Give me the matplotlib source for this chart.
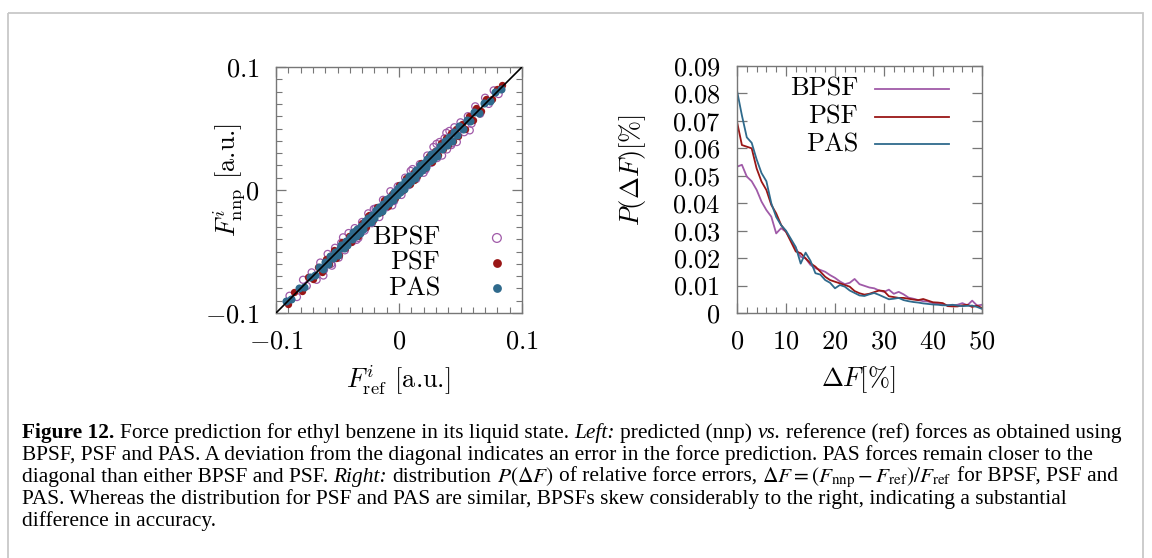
import matplotlib
matplotlib.use("Agg")
import matplotlib.pyplot as plt
import numpy as np
from matplotlib.ticker import MultipleLocator, FixedLocator, FixedFormatter
from matplotlib.patches import Rectangle
from matplotlib.lines import Line2D

plt.rcParams['font.family'] = 'cmr10'
plt.rcParams['mathtext.fontset'] = 'cm'
plt.rcParams['axes.formatter.use_mathtext'] = True

# ---------------- data ----------------
series_names = ["BPSF", "PSF", "PAS"]

# Left panel: reference vs predicted forces (representative points)
pas_ref = [-0.092, -0.088, -0.081, -0.077, -0.072, -0.068, -0.065, -0.062, -0.060, -0.058,
           -0.056, -0.054, -0.052, -0.050, -0.048, -0.047, -0.045, -0.043, -0.042, -0.040,
           -0.038, -0.037, -0.035, -0.034, -0.032, -0.031, -0.029, -0.028, -0.026, -0.025,
           -0.023, -0.022, -0.020, -0.019, -0.017, -0.016, -0.014, -0.013, -0.011, -0.010,
           -0.008, -0.007, -0.005, -0.004, -0.002, -0.001, 0.001, 0.002, 0.004, 0.005,
           0.007, 0.008, 0.010, 0.011, 0.013, 0.014, 0.016, 0.017, 0.019, 0.020,
           0.022, 0.023, 0.025, 0.026, 0.028, 0.030, 0.031, 0.033, 0.035, 0.037,
           0.039, 0.041, 0.043, 0.045, 0.047, 0.049, 0.052, 0.055, 0.058, 0.061,
           0.065, 0.069, 0.074, 0.078, 0.083, -0.0295, -0.0135, 0.0035, 0.0185, 0.0345]
pas_dev = [0.002, -0.001, 0.0015, -0.002, 0.001, -0.0015, 0.002, -0.0025, 0.0015, -0.002,
           0.0025, -0.0015, 0.002, -0.0025, 0.001, 0.0025, -0.002, 0.0015, -0.003, 0.002,
           -0.0015, 0.003, -0.002, 0.0025, -0.003, 0.0015, -0.0025, 0.003, -0.001, 0.0025,
           -0.003, 0.002, -0.0025, 0.003, -0.0015, 0.0025, -0.003, 0.002, -0.002, 0.003,
           -0.0025, 0.0015, -0.003, 0.0025, -0.002, 0.003, -0.0025, 0.002, -0.003, 0.0025,
           -0.002, 0.003, -0.0025, 0.0015, -0.003, 0.0025, -0.002, 0.003, -0.0025, 0.002,
           -0.003, 0.0025, -0.0015, 0.003, -0.0025, 0.002, -0.003, 0.0025, -0.002, 0.003,
           -0.0025, 0.002, -0.003, 0.0025, -0.002, 0.003, -0.0025, 0.002, -0.0015, 0.0025,
           -0.002, 0.0015, -0.002, 0.0015, -0.001, 0.0, 0.0, 0.0, 0.0, 0.0]

psf_ref = [-0.090, -0.085, -0.079, -0.074, -0.070, -0.066, -0.063, -0.059, -0.057, -0.053,
           -0.049, -0.046, -0.044, -0.041, -0.039, -0.036, -0.033, -0.030, -0.027, -0.024,
           -0.021, -0.018, -0.015, -0.012, -0.009, -0.006, -0.003, 0.000, 0.003, 0.006,
           0.009, 0.012, 0.015, 0.018, 0.021, 0.024, 0.027, 0.029, 0.032, 0.034,
           0.036, 0.038, 0.040, 0.042, 0.044, 0.046, 0.048, 0.051, 0.054, 0.057,
           0.060, 0.063, 0.067, 0.071, 0.076, 0.080, 0.084, -0.051, -0.0255, 0.0125]
psf_dev = [-0.003, 0.002, -0.0035, 0.003, -0.002, 0.0035, -0.004, 0.0025, -0.0035, 0.004,
           -0.004, 0.0035, -0.003, 0.004, -0.0035, 0.003, -0.004, 0.0035, -0.003, 0.004,
           -0.0035, 0.004, -0.003, 0.0035, -0.004, 0.003, -0.0035, 0.004, -0.003, 0.0035,
           -0.004, 0.003, -0.0035, 0.004, -0.003, 0.0035, -0.004, 0.003, -0.0035, 0.004,
           -0.003, 0.0045, -0.0035, 0.004, -0.004, 0.0035, -0.0045, 0.003, -0.004, 0.0035,
           -0.003, 0.0035, -0.0025, 0.003, -0.002, 0.0025, 0.0015, -0.0045, 0.0045, -0.004]

bpsf_ref = [-0.089, -0.083, -0.078, -0.075, -0.071, -0.067, -0.064, -0.061, -0.058, -0.055,
            -0.052, -0.049, -0.047, -0.044, -0.041, -0.038, -0.036, -0.033, -0.030, -0.028,
            -0.025, -0.022, -0.019, -0.016, -0.013, -0.010, -0.007, -0.004, -0.001, 0.002,
            0.005, 0.008, 0.011, 0.014, 0.017, 0.020, 0.023, 0.026, 0.028, 0.031,
            0.033, 0.035, 0.037, 0.039, 0.041, 0.043, 0.045, 0.047, 0.050, 0.053,
            0.056, 0.059, 0.062, 0.066, 0.070, 0.073, 0.077, 0.081, -0.0545, 0.0385,
            -0.0615, -0.0455, -0.0345, -0.0205, -0.0055, 0.0095, 0.0215, 0.0305, 0.0425, 0.0575]
bpsf_dev = [0.003, -0.004, 0.005, -0.003, 0.004, -0.006, 0.005, -0.004, 0.006, -0.005,
            0.005, -0.006, 0.004, -0.005, 0.006, -0.004, 0.005, -0.006, 0.004, -0.005,
            0.006, -0.005, 0.004, -0.006, 0.005, -0.004, 0.006, -0.005, 0.004, -0.006,
            0.005, -0.004, 0.006, -0.005, 0.004, -0.006, 0.005, -0.004, 0.007, -0.005,
            0.006, -0.007, 0.005, -0.006, 0.007, -0.005, 0.006, -0.008, 0.005, -0.006,
            0.004, -0.005, 0.006, -0.004, 0.005, -0.003, 0.004, -0.003, -0.007, 0.008,
            -0.008, 0.007, -0.006, 0.005, -0.007, 0.006, -0.005, 0.007, -0.006, -0.009]

# Right panel: distribution P(dF) of relative force errors, dF in percent
dF = list(range(0, 51))
p_bpsf = [0.0533, 0.0540, 0.0497, 0.0480, 0.0449, 0.0406, 0.0375, 0.0351, 0.0290, 0.0309,
          0.0296, 0.0266, 0.0236, 0.0205, 0.0199, 0.0175, 0.0163, 0.0157, 0.0150, 0.0138,
          0.0128, 0.0115, 0.0105, 0.0110, 0.0124, 0.0105, 0.0099, 0.0093, 0.0090, 0.0082,
          0.0077, 0.0085, 0.0070, 0.0077, 0.0068, 0.0056, 0.0052, 0.0047, 0.0043, 0.0042,
          0.0036, 0.0033, 0.0031, 0.0029, 0.0028, 0.0030, 0.0036, 0.0028, 0.0045, 0.0027,
          0.0030]
p_psf = [0.0697, 0.0612, 0.0606, 0.0600, 0.0527, 0.0479, 0.0448, 0.0394, 0.0363, 0.0321,
         0.0296, 0.0260, 0.0224, 0.0218, 0.0199, 0.0181, 0.0169, 0.0151, 0.0132, 0.0120,
         0.0114, 0.0108, 0.0102, 0.0096, 0.0080, 0.0072, 0.0067, 0.0070, 0.0076, 0.0082,
         0.0080, 0.0061, 0.0058, 0.0055, 0.0055, 0.0052, 0.0049, 0.0047, 0.0051, 0.0045,
         0.0039, 0.0038, 0.0036, 0.0025, 0.0024, 0.0024, 0.0028, 0.0030, 0.0022, 0.0027,
         0.0018]
p_pas = [0.0810, 0.0720, 0.0640, 0.0620, 0.0560, 0.0510, 0.0480, 0.0400, 0.0350, 0.0320,
         0.0300, 0.0270, 0.0240, 0.0180, 0.0220, 0.0190, 0.0145, 0.0140, 0.0120, 0.0110,
         0.0090, 0.0102, 0.0096, 0.0082, 0.0073, 0.0064, 0.0062, 0.0068, 0.0073, 0.0066,
         0.0058, 0.0050, 0.0052, 0.0055, 0.0047, 0.0043, 0.0040, 0.0038, 0.0035, 0.0033,
         0.0031, 0.0030, 0.0028, 0.0028, 0.0030, 0.0027, 0.0025, 0.0026, 0.0027, 0.0022,
         0.0015]

left_ticks = [-0.1, 0.0, 0.1]
left_ticklabels = [r"$-0.1$", r"$0$", r"$0.1$"]
right_xticks = [0, 10, 20, 30, 40, 50]
right_xticklabels = ["$0$", "$10$", "$20$", "$30$", "$40$", "$50$"]
right_yticks = [0.0, 0.01, 0.02, 0.03, 0.04, 0.05, 0.06, 0.07, 0.08, 0.09]
right_yticklabels = ["$0$", "$0.01$", "$0.02$", "$0.03$", "$0.04$", "$0.05$",
                     "$0.06$", "$0.07$", "$0.08$", "$0.09$"]

caption_lines = [
    [("Figure 12.", 'b', False), ("Force prediction for ethyl benzene in its liquid state.", 'n', True),
     ("Left:", 'i', True), ("predicted (nnp)", 'n', True), ("vs.", 'i', True),
     ("reference (ref) forces as obtained using", 'n', True)],
    [("BPSF, PSF and PAS. A deviation from the diagonal indicates an error in the force prediction. PAS forces remain closer to the", 'n', False)],
    [("diagonal than either BPSF and PSF.", 'n', False), ("Right:", 'i', True), ("distribution", 'n', True),
     (r"$P(\Delta F)$", 'm', True), ("of relative force errors,", 'n', True),
     (r"$\Delta F = (F_{\rm nnp} - F_{\rm ref})/F_{\rm ref}$", 'm', True), ("for BPSF, PSF and", 'n', True)],
    [("PAS. Whereas the distribution for PSF and PAS are similar, BPSFs skew considerably to the right, indicating a substantial", 'n', False)],
    [("difference in accuracy.", 'n', False)],
]

# ---------------- styling ----------------
W, H = 1152, 558
c_bpsf = '#a05aa8'
c_psf = '#9a1616'
c_pas = '#2f6a8c'
spine_c = '#777777'
FS = 19

fig = plt.figure(figsize=(W / 100, H / 100), dpi=100)

# outer frame
fig.patches.append(Rectangle((8 / W, 1 - 13 / H), (1143 - 8) / W, -(560 - 13) / H,
                             transform=fig.transFigure, fill=False, edgecolor='#c8c8c8',
                             linewidth=1.3, clip_on=False))


def style_axes(ax):
    for s in ax.spines.values():
        s.set_color(spine_c)
        s.set_linewidth(1.0)
    ax.tick_params(which='both', direction='in', top=True, right=True, colors=spine_c,
                   labelcolor='black', labelsize=FS)
    ax.tick_params(which='major', length=7, width=0.9)
    ax.tick_params(which='minor', length=4, width=0.8)


# ---- left panel ----
axL = fig.add_axes([276 / W, 1 - 313 / H, 246 / W, 246 / H])
axL.scatter(bpsf_ref, np.array(bpsf_ref) + np.array(bpsf_dev), s=26, facecolors='none',
            edgecolors=c_bpsf, linewidths=0.9, zorder=2)
axL.scatter(psf_ref, np.array(psf_ref) + np.array(psf_dev), s=28, color=c_psf,
            linewidths=0, zorder=3)
axL.scatter(pas_ref, np.array(pas_ref) + np.array(pas_dev), s=34, color=c_pas,
            linewidths=0, zorder=4)
axL.plot([left_ticks[0], left_ticks[-1]], [left_ticks[0], left_ticks[-1]], color='black',
         lw=1.2, zorder=5)
axL.set_xlim(left_ticks[0], left_ticks[-1])
axL.set_ylim(left_ticks[0], left_ticks[-1])
style_axes(axL)
axL.xaxis.set_major_locator(FixedLocator(left_ticks))
axL.yaxis.set_major_locator(FixedLocator(left_ticks))
axL.xaxis.set_major_formatter(FixedFormatter(left_ticklabels))
axL.yaxis.set_major_formatter(FixedFormatter(left_ticklabels))
axL.xaxis.set_minor_locator(MultipleLocator(0.01))
axL.yaxis.set_minor_locator(MultipleLocator(0.01))
axL.tick_params(axis='x', pad=12)
axL.tick_params(axis='y', pad=12)

# legend (left)
for i, (name, style) in enumerate(zip(series_names,
                                       [dict(facecolors='none', edgecolors=c_bpsf, linewidths=0.9),
                                        dict(color=c_psf, linewidths=0),
                                        dict(color=c_pas, linewidths=0)])):
    yy = 0.305 - i * 0.102
    axL.text(0.667, yy, name, transform=axL.transAxes, ha='right', va='center', fontsize=FS,
             zorder=6)
    axL.scatter([0.898], [yy], s=40, transform=axL.transAxes, zorder=6, clip_on=False, **style)

fig.text(398 / W, 1 - 380 / H, r"$F^i_{\rm ref}$ [a.u.]", ha='center', va='center', fontsize=FS)
fig.text(229 / W, 1 - 180 / H, r"$F^i_{\rm nnp}$ [a.u.]", ha='center', va='center', fontsize=FS,
         rotation=90)

# ---- right panel ----
axR = fig.add_axes([737 / W, 1 - 313 / H, 245 / W, 247 / H])
for name, vals, col in zip(series_names, [p_bpsf, p_psf, p_pas], [c_bpsf, c_psf, c_pas]):
    axR.plot(dF, vals, color=col, lw=1.3)
axR.set_xlim(right_xticks[0], right_xticks[-1])
axR.set_ylim(right_yticks[0], right_yticks[-1])
style_axes(axR)
axR.xaxis.set_major_locator(FixedLocator(right_xticks))
axR.xaxis.set_major_formatter(FixedFormatter(right_xticklabels))
axR.yaxis.set_major_locator(FixedLocator(right_yticks))
axR.yaxis.set_major_formatter(FixedFormatter(right_yticklabels))
axR.xaxis.set_minor_locator(MultipleLocator(2))
axR.tick_params(axis='x', pad=12)
axR.tick_params(axis='y', pad=12)

for i, (name, col) in enumerate(zip(series_names, [c_bpsf, c_psf, c_pas])):
    yy = 0.907 - i * 0.112
    axR.text(0.494, yy, name, transform=axR.transAxes, ha='right', va='center', fontsize=FS)
    axR.add_line(Line2D([0.563, 0.865], [yy, yy], transform=axR.transAxes, color=col, lw=1.3))

fig.text(858 / W, 1 - 380 / H, r"$\Delta F[\%]$", ha='center', va='center', fontsize=FS)
fig.text(633 / W, 1 - 170 / H, r"$P(\Delta F)[\%]$", ha='center', va='center', fontsize=FS,
         rotation=90)

# ---- caption ----
renderer = fig.canvas.get_renderer()
CAP_FAMILY = 'Liberation Serif'


def make_text(x, y, s, style, size):
    kw = dict(fontsize=size, family=CAP_FAMILY, va='baseline', ha='left',
              math_fontfamily='stix')
    if style == 'b':
        kw['weight'] = 'bold'
    elif style == 'i':
        kw['style'] = 'italic'
    return fig.text(x / W, 1 - y / H, s, **kw)


def width_of(s, style, size):
    t = make_text(0, 0, s, style, size)
    w = t.get_window_extent(renderer).width
    t.remove()
    return w


def space_w(size):
    return width_of("a a", 'n', size) - width_of("aa", 'n', size)


def line_width(runs, size):
    total = 0
    sw = space_w(size)
    for s, st, sp in runs:
        if sp:
            total += sw
        total += width_of(s, st, size)
    return total


size = 12.0
target = 1115 - 22
w0 = line_width(caption_lines[0], size)
size = size * target / w0

baselines = [438, 460, 482, 504, 526]
sw = space_w(size)
for runs, yb in zip(caption_lines, baselines):
    x = 22
    for s, st, sp in runs:
        if sp:
            x += sw
        t = make_text(x, yb, s, st, size)
        x += t.get_window_extent(renderer).width

fig.savefig("out.png", dpi=100)
